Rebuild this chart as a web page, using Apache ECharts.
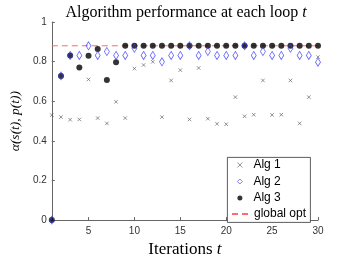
<!DOCTYPE html>
<html><head><meta charset="utf-8">
<script src="https://cdn.jsdelivr.net/npm/echarts@6/dist/echarts.min.js"></script>
<style>html,body{margin:0;padding:0;background:#fff}#c{width:350px;height:263px}</style>
</head><body><div id="c"></div><script>
const iterations = [1,2,3,4,5,6,7,8,9,10,11,12,13,14,15,16,17,18,19,20,21,22,23,24,25,26,27,28,29,30];
const alg1 = [0.530,0.520,0.507,0.508,0.710,0.515,0.488,0.597,0.515,0.765,0.783,0.799,0.520,0.705,0.757,0.508,0.768,0.512,0.486,0.484,0.621,0.524,0.532,0.705,0.531,0.532,0.705,0.488,0.621,0.823];
const alg2 = [0,0.728,0.831,0.831,0.880,0.831,0.851,0.831,0.831,0.867,0.831,0.831,0.799,0.831,0.831,0.880,0.831,0.851,0.831,0.831,0.831,0.880,0.831,0.851,0.831,0.831,0.867,0.831,0.831,0.797];
const alg3 = [0,0.728,0.831,0.770,0.830,0.864,0.707,0.797,0.880,0.880,0.880,0.880,0.880,0.880,0.880,0.880,0.880,0.880,0.880,0.880,0.880,0.880,0.880,0.880,0.880,0.880,0.880,0.880,0.880,0.880];
const globalOpt = 0.88;
const xTicks = [5,10,15,20,25,30];
const yTicks = [0,0.2,0.4,0.6,0.8,1];
const markerNames = ['Alg 1','Alg 2','Alg 3'];
const lineNames = ['global opt'];

const pair = arr => iterations.map((t,i)=>[t,arr[i]]);
const chart = echarts.init(document.getElementById('c'), null, {renderer:'canvas'});
const serif = 'Liberation Serif';
const sans = 'Liberation Sans';
const crossPath = 'path://M0,0L10,10M10,0L0,10';
chart.setOption({
  animation:false,
  backgroundColor:'#fff',
  title:{
    text:'{n|Algorithm performance at each loop }{i|t}',
    left:181, top:0, textAlign:'center',
    textStyle:{fontWeight:'normal',rich:{
      n:{fontFamily:serif,fontSize:16,fontWeight:'normal',color:'#000'},
      i:{fontFamily:serif,fontSize:16,fontStyle:'italic',fontWeight:'normal',color:'#000'}
    }}
  },
  grid:{left:45,right:32,top:22,bottom:34,containLabel:false},
  graphic:[{type:'rect',left:227,top:157,shape:{width:83,height:65},
    style:{fill:'#fff',stroke:'#333',lineWidth:0.8},z:15}],
  legend:[{
    orient:'vertical', left:237, top:158.5, z:20,
    padding:0, itemGap:3.5, itemWidth:5, itemHeight:5,
    textStyle:{fontFamily:sans,fontSize:12,lineHeight:13,color:'#000',padding:[0,0,0,6]},
    data:[
      {name:'Alg 1',itemStyle:{color:'transparent',borderColor:'#555',borderWidth:0.8}},
      {name:'Alg 2',itemStyle:{color:'transparent',borderColor:'#3a3aff',borderWidth:0.8}},
      {name:'Alg 3'}
    ]
  },{
    orient:'vertical', left:231, top:207.5, z:20,
    padding:0, itemWidth:17, itemHeight:8,
    textStyle:{fontFamily:sans,fontSize:12,lineHeight:13,color:'#000',padding:[0,0,0,0]},
    data:[{name:'global opt',itemStyle:{color:'transparent',borderWidth:0,opacity:0}}]
  }],
  xAxis:{
    type:'value', min:1, max:30,
    name:'{n|Iterations }{i|t}', nameLocation:'middle', nameGap:19,
    nameTextStyle:{rich:{
      n:{fontFamily:serif,fontSize:17,color:'#000'},
      i:{fontFamily:serif,fontSize:17,fontStyle:'italic',color:'#000'}
    }},
    axisLine:{onZero:false,lineStyle:{color:'#666',width:1}},
    axisTick:{inside:true,length:3,customValues:xTicks,lineStyle:{color:'#666'}},
    axisLabel:{customValues:xTicks,fontFamily:sans,fontSize:10,color:'#333',margin:6},
    splitLine:{show:false}
  },
  yAxis:{
    type:'value', min:0, max:1,
    name:'α(s(t), p(t))', nameLocation:'middle', nameGap:23, nameRotate:90,
    nameTextStyle:{fontFamily:serif,fontSize:13.5,fontStyle:'italic',color:'#000'},
    axisLine:{show:true,lineStyle:{color:'#666',width:1}},
    axisTick:{show:true,inside:true,length:3,customValues:yTicks,lineStyle:{color:'#666'}},
    axisLabel:{customValues:yTicks,fontFamily:sans,fontSize:10,color:'#333',margin:5},
    splitLine:{show:false}
  },
  series:[
    {name:'Alg 1',type:'scatter',data:pair(alg1),symbol:crossPath,symbolSize:3.5,
     itemStyle:{color:'transparent',borderColor:'#555',borderWidth:0.8},z:3},
    {name:'Alg 3',type:'scatter',data:pair(alg3),symbol:'circle',symbolSize:6,
     itemStyle:{color:'#000'},z:4},
    {name:'Alg 2',type:'scatter',data:pair(alg2),symbol:'diamond',symbolSize:[5,8],
     itemStyle:{color:'transparent',borderColor:'#3a3aff',borderWidth:0.8},z:5},
    {name:'global opt',type:'line',data:[[1,globalOpt],[30,globalOpt]],symbol:'none',
     lineStyle:{color:'#ff6b6b',width:1,type:[6,4]},z:2}
  ]
});
</script></body></html>
